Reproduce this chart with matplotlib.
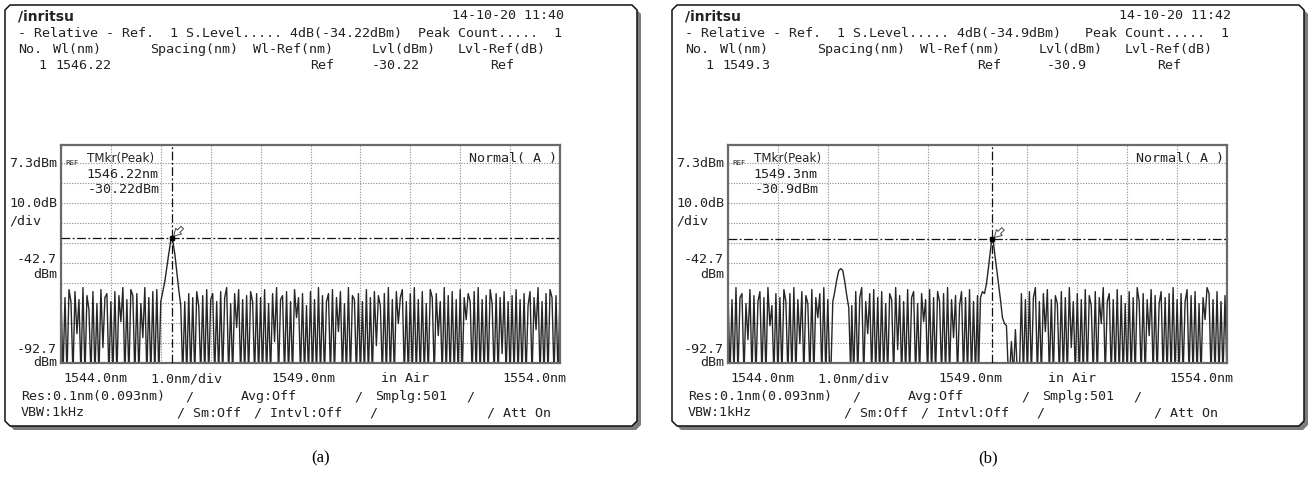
import numpy as np
import matplotlib
matplotlib.use('Agg')
import matplotlib.pyplot as plt
from matplotlib.patches import Polygon

W, H = 1310, 480

wl_grid = np.linspace(1544.0, 1554.0, 251)   # 0.04 nm steps

noise_a = [
    -58,-99,-60,-99,-56,-62,-99,-57,-78,-61,-99,-55,-99,-59,-66,-99,-57,-99,-63,-99,-56,-85,-60,-58,-99,
    -62,-99,-57,-99,-59,-72,-55,-99,-61,-99,-56,-59,-99,-58,-99,-63,-80,-55,-99,-60,-99,-57,-99,-56,-99,
    -99,-99,-99,-99,-99,-99,-99,-99,-99,-99,-99,-99,-62,-99,-58,-99,-60,-99,-57,-64,-99,-59,-99,-56,-99,
    -61,-58,-99,-62,-99,-57,-99,-60,-55,-99,-63,-99,-58,-75,-56,-99,-61,-99,-59,-99,-57,-62,-99,-58,-99,
    -60,-99,-56,-99,-63,-99,-58,-82,-55,-99,-61,-59,-99,-57,-99,-62,-99,-56,-70,-60,-99,-58,-99,-64,-99,
    -57,-99,-61,-99,-55,-99,-59,-99,-62,-58,-99,-56,-99,-60,-77,-57,-99,-63,-99,-55,-99,-59,-61,-99,-58,
    -99,-62,-99,-56,-99,-60,-99,-57,-84,-59,-64,-99,-58,-99,-55,-99,-61,-99,-57,-73,-60,-56,-99,-62,-99,
    -58,-99,-55,-99,-61,-99,-57,-99,-63,-99,-56,-60,-99,-58,-79,-62,-99,-55,-99,-59,-99,-57,-99,-61,-99,
    -56,-99,-60,-71,-58,-62,-99,-57,-99,-55,-99,-61,-99,-59,-99,-56,-63,-99,-58,-99,-60,-88,-57,-99,-62,
    -99,-59,-99,-56,-99,-61,-99,-58,-99,-64,-57,-99,-60,-76,-55,-99,-62,-99,-58,-99,-56,-60,-99,-59,-99,
    -58]

noise_b = [
    -57,-99,-61,-99,-55,-99,-60,-58,-99,-63,-81,-56,-99,-59,-99,-62,-57,-99,-60,-99,-55,-74,-64,-99,-58,
    -99,-60,-99,-56,-62,-99,-58,-99,-55,-99,-61,-83,-57,-99,-59,-63,-99,-56,-99,-60,-70,-58,-99,-55,-99,
    -61,-99,-99,-99,-99,-99,-99,-99,-99,-99,-99,-99,-64,-99,-57,-99,-60,-55,-99,-62,-78,-58,-99,-56,-99,
    -60,-99,-57,-99,-63,-99,-58,-61,-99,-55,-86,-59,-99,-62,-99,-56,-99,-60,-57,-99,-63,-99,-58,-72,-61,
    -99,-56,-99,-60,-99,-57,-62,-99,-58,-99,-55,-99,-61,-80,-59,-99,-64,-57,-99,-60,-99,-56,-99,-62,-99,
    -59,-99,-99,-99,-99,-99,-99,-99,-99,-99,-99,-99,-99,-99,-99,-99,-99,-82,-99,-76,-99,-99,-58,-99,-61,
    -99,-57,-99,-60,-55,-99,-62,-99,-58,-77,-56,-99,-61,-99,-59,-63,-99,-57,-99,-60,-99,-55,-85,-62,-99,
    -58,-99,-61,-99,-56,-99,-59,-64,-99,-57,-99,-60,-73,-55,-99,-62,-58,-99,-61,-99,-56,-99,-59,-99,-63,
    -99,-57,-99,-60,-99,-55,-62,-99,-58,-99,-61,-79,-56,-99,-59,-99,-63,-57,-99,-60,-99,-58,-99,-55,-99,
    -61,-99,-58,-99,-62,-56,-99,-59,-99,-57,-99,-63,-99,-60,-71,-55,-58,-99,-61,-99,-57,-99,-62,-99,-59,
    -99]

peak_a_wl = [1545.96, 1546.00, 1546.04, 1546.08, 1546.12, 1546.16, 1546.20, 1546.22,
             1546.24, 1546.28, 1546.32, 1546.36, 1546.40, 1546.44]
peak_a_lvl = [-99, -62, -57, -52, -45, -38, -31.5, -30.22, -31.8, -38, -47, -56, -64, -99]

peak_b2_wl = [1546.06, 1546.10, 1546.14, 1546.18, 1546.22, 1546.26, 1546.30, 1546.34,
              1546.38, 1546.42, 1546.46]
peak_b2_lvl = [-99, -62, -57, -51, -46.5, -45.5, -46.5, -52, -59, -65, -99]

peak_b_wl = [1549.02, 1549.06, 1549.10, 1549.14, 1549.18, 1549.22, 1549.26, 1549.28, 1549.30,
             1549.32, 1549.34, 1549.38, 1549.42, 1549.46, 1549.50, 1549.54, 1549.58, 1549.62]
peak_b_lvl = [-99, -60, -57, -58, -53, -45, -36, -32, -30.9, -32.5, -37, -45, -53, -61, -70, -73, -74, -99]

mkr_a = (1546.22, -30.22)
mkr_b = (1549.3, -30.9)

top_level = 7.3
db_div = 10.0

panels = [
    dict(ox=0, noise=noise_a, peaks=[(peak_a_wl, peak_a_lvl)], mkr=mkr_a,
         date='14-10-20 11:40',
         line1='- Relative - Ref.  1 S.Level..... 4dB(-34.22dBm)  Peak Count.....  1',
         wl='1546.22', lvl='-30.22', mwl='1546.22nm', mlvl='-30.22dBm', cap='(a)'),
    dict(ox=667, noise=noise_b, peaks=[(peak_b2_wl, peak_b2_lvl), (peak_b_wl, peak_b_lvl)], mkr=mkr_b,
         date='14-10-20 11:42',
         line1='- Relative - Ref.  1 S.Level..... 4dB(-34.9dBm)   Peak Count.....  1',
         wl='1549.3', lvl='-30.9', mwl='1549.3nm', mlvl='-30.9dBm', cap='(b)'),
]

plt.rcParams['font.family'] = ['DejaVu Sans Mono']


def fx(x):
    return x / W


def fy(y):
    return 1 - y / H


def build_trace(noise, peaks):
    lvl = np.array(noise, dtype=float)
    keep = np.ones(len(wl_grid), dtype=bool)
    for pw, pl in peaks:
        keep &= ~((wl_grid > pw[0] - 1e-6) & (wl_grid < pw[-1] + 1e-6))
    x = np.concatenate([wl_grid[keep]] + [np.array(pw) for pw, pl in peaks])
    y = np.concatenate([lvl[keep]] + [np.array(pl, dtype=float) for pw, pl in peaks])
    o = np.argsort(x)
    return x[o], y[o]


def chamfer(x0, y0, x1, y1, c):
    pts = [(x0 + c, y0), (x1 - c, y0), (x1, y0 + c), (x1, y1 - c),
           (x1 - c, y1), (x0 + c, y1), (x0, y1 - c), (x0, y0 + c)]
    return [(fx(px), fy(py)) for px, py in pts]


fig = plt.figure(figsize=(W / 100, H / 100), dpi=100)
fs = 9.6

for p in panels:
    ox = p['ox']

    # frame with shadow
    fig.patches.append(Polygon(chamfer(9 + ox, 9, 641 + ox, 430, 5), closed=True,
                               transform=fig.transFigure, fc='#7c7c7c', ec='none', zorder=0))
    fig.patches.append(Polygon(chamfer(5 + ox, 5, 637 + ox, 426, 5), closed=True,
                               transform=fig.transFigure, fc='white', ec='#111', lw=1.1, zorder=1))

    # y is the middle of the capitals, text sits on a baseline 5 px lower
    def t(x, y, s, **kw):
        kw.setdefault('fontsize', fs)
        kw.setdefault('va', 'baseline')
        fig.text(fx(x + ox), fy(y + 5), s, color='#222', **kw)

    # header
    t(18, 15, '/inritsu', fontweight='bold', family='DejaVu Sans', fontsize=10)
    t(452, 14, p['date'])
    t(18, 32, p['line1'])
    t(18, 48, 'No.')
    t(53, 48, 'Wl(nm)')
    t(150, 48, 'Spacing(nm)')
    t(253, 48, 'Wl-Ref(nm)')
    t(372, 48, 'Lvl(dBm)')
    t(458, 48, 'Lvl-Ref(dB)')
    t(38, 64, '1')
    t(55, 64, p['wl'])
    t(310, 64, 'Ref')
    t(420, 64, p['lvl'], ha='right')
    t(490, 64, 'Ref')

    # y labels
    t(57, 162, '7.3dBm', ha='right')
    t(57, 202, '10.0dB', ha='right')
    t(9, 219, '/div')
    t(57, 258, '-42.7', ha='right')
    t(57, 273, 'dBm', ha='right')
    t(57, 348, '-92.7', ha='right')
    t(57, 361, 'dBm', ha='right')

    # x labels
    t(63, 377, '1544.0nm')
    t(150, 377, '1.0nm/div')
    t(271, 377, '1549.0nm')
    t(381, 377, 'in Air')
    t(502, 377, '1554.0nm')

    # settings rows
    t(21, 395, 'Res:0.1nm(0.093nm)')
    t(185, 395, '/')
    t(241, 395, 'Avg:Off')
    t(354, 395, '/')
    t(375, 395, 'Smplg:501')
    t(466, 395, '/')
    t(21, 411, 'VBW:1kHz')
    t(177, 411, '/ Sm:Off')
    t(254, 411, '/ Intvl:Off')
    t(369, 411, '/')
    t(487, 411, '/ Att On')

    # marker text inside the plot
    t(65, 160, 'REF', fontsize=5, family='DejaVu Sans')
    t(87, 157, 'TMkr(Peak)', family='DejaVu Sans', fontsize=8.6)
    t(86, 173, p['mwl'])
    t(88, 188, p['mlvl'])
    t(469, 157, 'Normal( A )')

    # caption
    fig.text(fx(321 + ox), fy(458), p['cap'], ha='center', va='center',
             family='Liberation Serif', fontsize=12)

    # plot area: 10 dB/div from 7.3 dBm down, plus a header strip above the top line
    ax = fig.add_axes([fx(61 + ox), fy(363), (560 - 61) / W, (363 - 145) / H], zorder=3)
    ax.set_xlim(1544, 1554)
    ax.set_ylim(top_level - 10 * db_div, top_level + 0.9 * db_div)
    ax.set_xticks(np.arange(1544, 1555, 1))
    ax.set_yticks([top_level - db_div * k for k in range(11)])
    ax.tick_params(length=0, labelbottom=False, labelleft=False)
    ax.grid(True, color='#8a8a8a', lw=0.8, linestyle=(0, (1, 1.4)))
    ax.set_facecolor('none')
    for s in ax.spines.values():
        s.set_color('#6a6a6a')
        s.set_linewidth(1.6)

    x, y = build_trace(p['noise'], p['peaks'])
    ax.plot(x, y, color='#262626', lw=1.0, zorder=2)

    mw, ml = p['mkr']
    ax.axhline(ml, color='#111', lw=0.9, linestyle=(0, (7, 2, 1.5, 2)), zorder=4)
    ax.axvline(mw, color='#111', lw=0.9, linestyle=(0, (7, 2, 1.5, 2)), zorder=4)
    ax.plot([mw], [ml], 's', ms=2.5, color='k', zorder=5)
    ax.annotate('', xy=(mw, ml), xytext=(9, 9), textcoords='offset points',
                arrowprops=dict(arrowstyle='simple,head_width=0.6,head_length=0.5,tail_width=0.25',
                                fc='white', ec='#444', lw=0.7), zorder=6)

fig.savefig('out.png', dpi=100)
